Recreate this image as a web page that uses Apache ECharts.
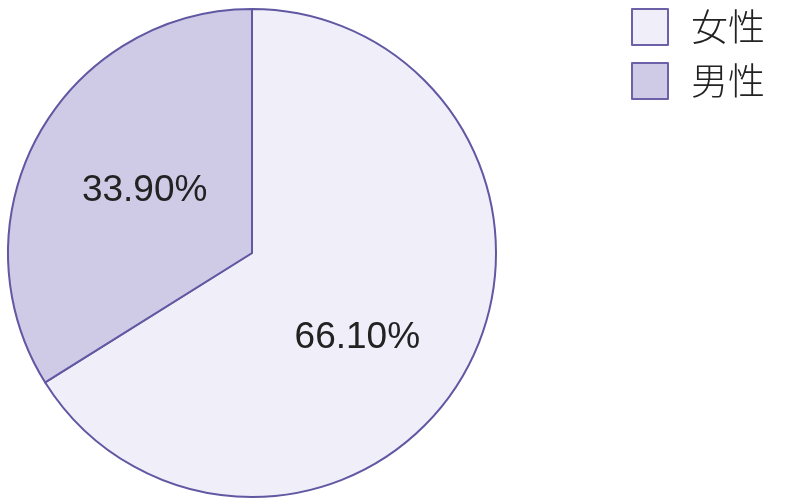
<!DOCTYPE html>
<html><head><meta charset="utf-8">
<script src="https://cdn.jsdelivr.net/npm/echarts@6/dist/echarts.min.js"></script>
<style>html,body{margin:0;padding:0;background:#fff}#c{width:789px;height:500px}</style>
</head><body><div id="c"></div>
<script>
const categories = ['女性', '男性'];
const values = [66.1, 33.9];
const colors = ['#efeef9', '#cfcae6'];
const labelOffsets = [[-4, 24], [2, -2]];

const chart = echarts.init(document.getElementById('c'));
chart.setOption({
  animation: false,
  legend: {
    orient: 'vertical',
    left: 631,
    top: 8,
    padding: 0,
    itemWidth: 36,
    itemHeight: 36,
    itemGap: 16,
    icon: 'rect',
    itemStyle: { borderColor: '#6b61a8', borderWidth: 2 },
    textStyle: { fontSize: 37, color: '#222', padding: [2, 0, 0, 18], fontFamily: 'Noto Sans CJK JP', fontWeight: 300 },
    data: categories
  },
  series: [{
    type: 'pie',
    center: [252, 253],
    radius: 244,
    startAngle: 90,
    clockwise: true,
    emphasis: { disabled: true },
    itemStyle: { borderColor: '#6158a3', borderWidth: 2 },
    label: {
      position: 'inside',
      fontSize: 37,
      color: '#222',
      fontFamily: 'Liberation Sans',
      formatter: p => p.value.toFixed(2) + '%'
    },
    labelLine: { show: false },
    data: categories.map((n, i) => ({
      name: n, value: values[i],
      itemStyle: { color: colors[i] },
      label: { offset: labelOffsets[i] }
    }))
  }]
});
</script></body></html>
